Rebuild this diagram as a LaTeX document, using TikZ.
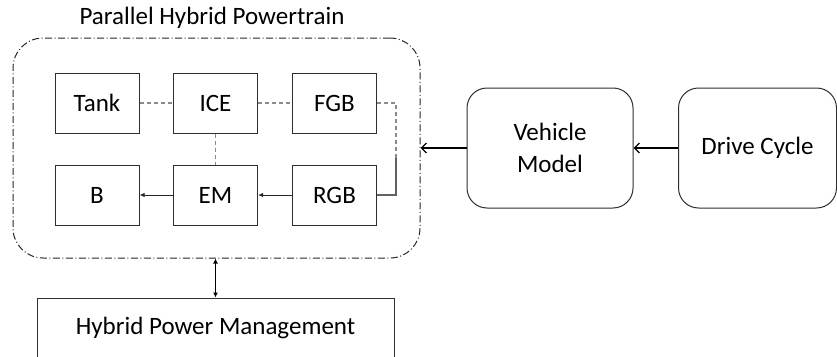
\documentclass[tikz,border=0pt]{standalone}
\usepackage{fontspec}
\setmainfont{Carlito}
\usetikzlibrary{arrows.meta}
\definecolor{boxline}{HTML}{2E2E2E}
\definecolor{conn}{HTML}{8A8A8A}
\tikzset{
  txt/.style={font=\fontsize{25}{32}\selectfont, text=black},
  comp/.style={txt, draw=boxline, line width=1pt, minimum width=84pt, minimum height=60pt, inner sep=0pt},
  roundbox/.style={txt, draw=boxline, line width=1pt, rounded corners=20pt, inner sep=0pt, align=center},
  dashconn/.style={draw=conn, line width=1.1pt, dash pattern=on 4pt off 3pt},
  solidconn/.style={draw=conn!70!black, line width=1.1pt},
  arr/.style={draw=black!85, line width=1pt, -{Latex[length=5pt,width=4.5pt]}},
  barb/.style={draw=black, line width=1.3pt, -{Straight Barb[length=5pt,width=10pt]}},
}
\begin{document}
\begin{tikzpicture}[x=1pt,y=-1pt]
\useasboundingbox (0,0) rectangle (837,356);
\clip (0,0) rectangle (837,356);
% outer powertrain group
\node[draw=black!85, line width=1pt, rounded corners=30pt, dash pattern=on 7pt off 2.5pt on 1pt off 2.5pt, minimum width=407pt, minimum height=220pt, inner sep=0pt] (pt) at (216.5,148) {};
\node[txt] (title) at (212,18) {Parallel Hybrid Powertrain};
% components
\node[comp] (tank) at (97,103) {Tank};
\node[comp] (ice) at (215.5,103) {ICE};
\node[comp] (fgb) at (334.5,103) {FGB};
\node[comp] (b) at (97,195) {B};
\node[comp] (em) at (215.5,195) {EM};
\node[comp] (rgb) at (334.5,195) {RGB};
% right side
\node[roundbox, minimum width=166pt, minimum height=120pt] (vm) at (550,148) {Vehicle\\Model};
\node[roundbox, minimum width=158pt, minimum height=120pt] (dc) at (757.5,148) {Drive Cycle};
% management
\node[txt, draw=boxline, line width=1pt, minimum width=357pt, minimum height=60pt, inner sep=0pt] (hpm) at (215.5,328) {Hybrid Power Management};
% connectors
\draw[dashconn] (tank.east) -- (ice.west);
\draw[dashconn] (ice.east) -- (fgb.west);
\draw[dashconn] (ice.south) -- (em.north);
\coordinate (c1) at (396,103);
\coordinate (c2) at (396,158);
\coordinate (c3) at (396,195);
\draw[dashconn] (fgb.east) -- (c1) -- (c2);
\draw[solidconn] (c2) -- (c3) -- (rgb.east);
\draw[arr] (em.west) -- (b.east);
\draw[arr] (rgb.west) -- (em.east);
\draw[barb] (vm.west) -- (pt.east);
\draw[barb] (dc.west) -- (vm.east);
\draw[draw=black, line width=1.3pt, {Latex[length=5pt,width=5pt]}-{Latex[length=5pt,width=5pt]}] (pt.south -| hpm.north) -- (hpm.north);
\end{tikzpicture}
\end{document}
